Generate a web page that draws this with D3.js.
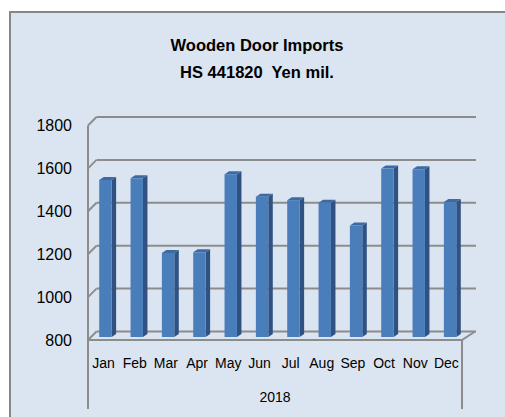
<!DOCTYPE html>
<html>
<head>
<meta charset="utf-8">
<script src="https://cdn.jsdelivr.net/npm/d3@7"></script>
<style>
  body { margin: 0; background: #ffffff; }
  svg { display: block; }
</style>
</head>
<body>
<div id="bar-chart"></div>
<script>
// chart data
const months = ["Jan", "Feb", "Mar", "Apr", "May", "Jun", "Jul", "Aug", "Sep", "Oct", "Nov", "Dec"];
const imports = [1532, 1540, 1192, 1195, 1559, 1454, 1438, 1426, 1320, 1585, 1582, 1429];
const yTicks = [800, 1000, 1200, 1400, 1600, 1800];
const titleLines = ["Wooden Door Imports", "HS 441820  Yen mil."];
const yearLabel = "2018";

const width = 505, height = 417;
const font = "'Liberation Sans', Arial, sans-serif";

// 3d offsets: front plane -> back wall
const depthX = 8.5, depthY = -8.5;

const svg = d3.select("#bar-chart")
  .append("svg")
  .attr("width", width)
  .attr("height", height)
  .attr("viewBox", [0, 0, width, height]);

// chart area background + border
svg.append("rect")
  .attr("x", 10).attr("y", 12)
  .attr("width", 520).attr("height", 430)
  .attr("fill", "#dbe5f1")
  .attr("stroke", "#878787")
  .attr("stroke-width", 2);

// title
svg.selectAll(".title")
  .data(titleLines)
  .enter()
  .append("text")
  .attr("class", "title")
  .attr("x", 257)
  .attr("y", (d, i) => 51 + i * 27)
  .attr("text-anchor", "middle")
  .attr("font-family", font)
  .attr("font-weight", "bold")
  .attr("font-size", "16.5px")
  .attr("fill", "#000")
  .style("white-space", "pre")
  .text(d => d);

// scales (back wall)
const y = d3.scaleLinear()
  .domain([800, 1800])
  .range([331.5, 117]);

const xFront = d3.scaleBand()
  .domain(months)
  .range([88, 462]);

// bars sit half way into the depth
const xBar = d3.scaleBand()
  .domain(months)
  .range([92, 468])
  .paddingInner(0.46)
  .paddingOuter(0.23);

const barBase = 337;
const yBar = (v) => y(v) + (barBase - y(800));

const gridColor = "#8c8c8c";

// back wall gridlines
svg.append("g")
  .selectAll("line")
  .data(yTicks)
  .enter()
  .append("line")
  .attr("x1", 88 + depthX)
  .attr("x2", 476)
  .attr("y1", d => y(d))
  .attr("y2", d => y(d))
  .attr("stroke", gridColor)
  .attr("stroke-width", 2);

// side wall gridlines (short diagonals)
svg.append("g")
  .selectAll("line")
  .data(yTicks)
  .enter()
  .append("line")
  .attr("x1", 88)
  .attr("x2", 88 + depthX)
  .attr("y1", d => y(d) - depthY)
  .attr("y2", d => y(d))
  .attr("stroke", gridColor)
  .attr("stroke-width", 2);

// floor front edge + right diagonal
const floorY = y(800) - depthY;
svg.append("path")
  .attr("d", `M88,${floorY}H462L475,${y(800)}`)
  .attr("fill", "none")
  .attr("stroke", gridColor)
  .attr("stroke-width", 2);

// left axis line (front edge of the side wall) running down past the labels
svg.append("line")
  .attr("x1", 88).attr("x2", 88)
  .attr("y1", y(1800) - depthY)
  .attr("y2", 409)
  .attr("stroke", gridColor)
  .attr("stroke-width", 2);

// right end line of the category axis
svg.append("line")
  .attr("x1", 462).attr("x2", 462)
  .attr("y1", floorY)
  .attr("y2", 409)
  .attr("stroke", gridColor)
  .attr("stroke-width", 2);

// y tick labels (front plane)
svg.append("g")
  .selectAll("text")
  .data(yTicks)
  .enter()
  .append("text")
  .attr("x", 72)
  .attr("y", d => y(d) - depthY)
  .attr("dy", "0.36em")
  .attr("text-anchor", "end")
  .attr("font-family", font)
  .attr("font-size", "16px")
  .attr("fill", "#000")
  .text(d => d);

// bars
const sideW = 4.5, topH = 3;
const bars = svg.append("g")
  .selectAll("g")
  .data(months.map((m, i) => ({ month: m, value: imports[i] })))
  .enter()
  .append("g");

const frontW = xBar.bandwidth() - sideW;

// side face
bars.append("path")
  .attr("d", d => {
    const x0 = xBar(d.month) + frontW;
    const top = yBar(d.value);
    return `M${x0},${top}L${x0 + sideW},${top - topH}V${barBase - topH}L${x0},${barBase}Z`;
  })
  .attr("fill", "#2f5283");

// top face
bars.append("path")
  .attr("d", d => {
    const x0 = xBar(d.month);
    const top = yBar(d.value);
    return `M${x0},${top}L${x0 + sideW},${top - topH}H${x0 + frontW + sideW}L${x0 + frontW},${top}Z`;
  })
  .attr("fill", "#3d6aa3");

// front face
bars.append("rect")
  .attr("x", d => xBar(d.month))
  .attr("y", d => yBar(d.value))
  .attr("width", frontW)
  .attr("height", d => barBase - yBar(d.value))
  .attr("fill", "#4a7ebb");

// month labels
svg.append("g")
  .selectAll("text")
  .data(months)
  .enter()
  .append("text")
  .attr("x", d => xFront(d) + xFront.bandwidth() / 2)
  .attr("y", 363)
  .attr("dy", "0.36em")
  .attr("text-anchor", "middle")
  .attr("font-family", font)
  .attr("font-size", "14px")
  .attr("fill", "#000")
  .text(d => d);

// year label
svg.append("text")
  .attr("x", 275)
  .attr("y", 397)
  .attr("dy", "0.36em")
  .attr("text-anchor", "middle")
  .attr("font-family", font)
  .attr("font-size", "14px")
  .attr("fill", "#000")
  .text(yearLabel);
</script>
</body>
</html>
